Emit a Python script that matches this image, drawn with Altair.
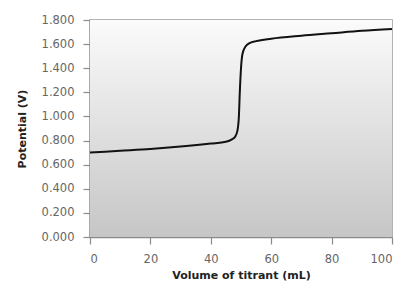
import altair as alt
import pandas as pd

volume = [0, 10, 20, 30, 40, 45, 47, 48, 48.8, 49.3, 49.6, 50, 50.5, 51.5, 53, 55, 60, 70, 80, 90, 100]
potential = [0.70, 0.715, 0.73, 0.75, 0.775, 0.79, 0.81, 0.83, 0.88, 1.0, 1.2, 1.4, 1.52, 1.58, 1.61, 1.625, 1.645, 1.67, 1.69, 1.71, 1.725]

df = pd.DataFrame({"v": volume, "p": potential})

W, H = 302, 217

bg = alt.Chart(pd.DataFrame({"a": [0]})).mark_rect(
    fill=alt.Gradient(
        gradient="linear",
        x1=0, x2=0, y1=0, y2=1,
        stops=[alt.GradientStop(color="#fbfbfb", offset=0),
               alt.GradientStop(color="#c6c6c6", offset=1)],
    )
).encode(x=alt.value(0), x2=alt.value(W), y=alt.value(0), y2=alt.value(H))

line = alt.Chart(df).mark_line(color="#111111", strokeWidth=2, interpolate="monotone").encode(
    x=alt.X("v:Q", scale=alt.Scale(domain=[0, 100], nice=False),
            axis=alt.Axis(title="Volume of titrant (mL)", values=[0, 20, 40, 60, 80, 100],
                          tickSize=7, labelPadding=9, titlePadding=5, grid=False)),
    y=alt.Y("p:Q", scale=alt.Scale(domain=[0, 1.8], nice=False),
            axis=alt.Axis(title="Potential (V)", format=".3f",
                          values=[0, 0.2, 0.4, 0.6, 0.8, 1.0, 1.2, 1.4, 1.6, 1.8],
                          tickSize=7, labelPadding=9, titlePadding=14, grid=False)),
)

chart = alt.layer(bg, line).properties(
    width=W, height=H,
    autosize=alt.AutoSizeParams(type="none"),
    padding={"left": 82, "top": 12, "right": 7, "bottom": 48},
    background="white",
).configure_view(
    stroke="#9a9a9a", strokeWidth=1.5
).configure_axis(
    domainColor="#8a8a8a", domainWidth=1.5,
    tickColor="#8a8a8a", tickWidth=1.2,
    labelFont="DejaVu Sans", labelFontSize=11.5, labelColor="#666666",
    titleFont="DejaVu Sans", titleFontSize=11, titleFontWeight="bold", titleColor="#222222",
)

chart.save("out.html", embed_options={"renderer": "svg", "actions": False})
